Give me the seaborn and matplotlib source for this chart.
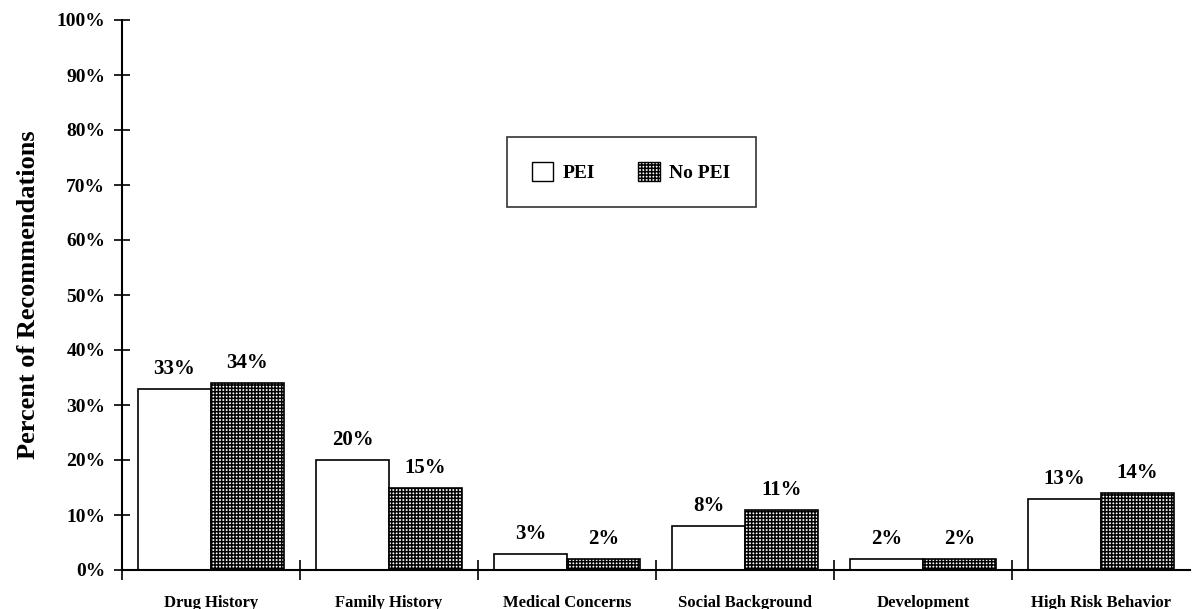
import numpy as np
import pandas as pd
import seaborn as sns
import matplotlib.pyplot as plt
from matplotlib.patches import Patch

categories = ['Drug History', 'Family History', 'Medical Concerns',
              'Social Background', 'Development', 'High Risk Behavior']
pei = [33, 20, 3, 8, 2, 13]
no_pei = [34, 15, 2, 11, 2, 14]
groups = ['PEI', 'No PEI']

df = pd.DataFrame({
    'Category': categories * 2,
    'Group': [groups[0]] * len(categories) + [groups[1]] * len(categories),
    'Percent': pei + no_pei,
})

sns.set_style('white')
plt.rcParams['font.family'] = ['Liberation Serif', 'DejaVu Serif']
plt.rcParams['font.weight'] = 'bold'
plt.rcParams['text.color'] = 'black'
plt.rcParams['axes.labelcolor'] = 'black'
plt.rcParams['xtick.color'] = 'black'
plt.rcParams['ytick.color'] = 'black'
plt.rcParams['hatch.linewidth'] = 1.1

fig = plt.figure(figsize=(12.01, 6.09), dpi=100)
ax = fig.add_axes([122 / 1201, 39 / 609, 1068 / 1201, 550 / 609])

sns.barplot(data=df, x='Category', y='Percent', hue='Group', order=categories,
            hue_order=groups, palette=['white', 'white'], edgecolor='black',
            linewidth=1.2, width=0.82, ax=ax, legend=False)

# second hue level gets the dark grid pattern
n = len(categories)
for i, bar in enumerate(ax.patches[:2 * n]):
    if i >= n:
        bar.set_hatch('+++++')
        bar.set_edgecolor('black')

# value labels
for i, bar in enumerate(ax.patches[:2 * n]):
    val = (pei + no_pei)[i]
    ax.text(bar.get_x() + bar.get_width() / 2, bar.get_height() + 1.8,
            f'{val}%', ha='center', va='bottom', fontsize=15, fontweight='bold')

ax.set_xlim(-0.5, n - 0.5)
ax.set_ylim(0, 100)
ax.set_yticks(np.arange(0, 101, 10))
ax.set_yticklabels([f'{v}%' for v in range(0, 101, 10)], fontsize=14, fontweight='bold')
ax.tick_params(axis='y', left=True, direction='inout', length=12, width=1.2, pad=6)
ax.set_xticks(range(n))
ax.set_xticklabels(categories, fontsize=12, fontweight='bold')
ax.tick_params(axis='x', which='major', bottom=True, length=0, pad=18)
ax.set_xticks(np.arange(-0.5, n - 0.5, 1.0), minor=True)
ax.tick_params(axis='x', which='minor', bottom=True, direction='inout', length=14, width=1.2)

ax.set_xlabel('')
ax.set_ylabel('Percent of Recommendations', fontsize=19, fontweight='bold', labelpad=12)

sns.despine(ax=ax, top=True, right=True)
for s in ['left', 'bottom']:
    ax.spines[s].set_linewidth(1.5)
    ax.spines[s].set_color('black')

handles = [Patch(facecolor='white', edgecolor='black', label='PEI'),
           Patch(facecolor='white', edgecolor='black', hatch='+++++', label='No PEI')]
leg = ax.legend(handles=handles, loc='upper left', bbox_to_anchor=(0.351, 0.805),
                ncol=2, frameon=True, fancybox=False, edgecolor='black',
                fontsize=14, borderpad=1.3, columnspacing=2.2, handlelength=1.1,
                handleheight=1.1, handletextpad=0.5)
leg.get_frame().set_linewidth(1.2)

fig.savefig('out.png', dpi=100)
